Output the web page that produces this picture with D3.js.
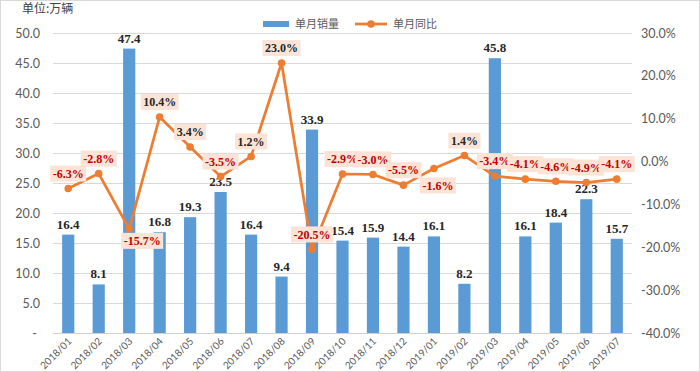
<!DOCTYPE html>
<html><head><meta charset="utf-8">
<script src="https://cdn.jsdelivr.net/npm/d3@7"></script>
<style>html,body{margin:0;padding:0;background:#fff;}svg{display:block;}</style>
</head><body>
<svg id="c" width="700" height="372"></svg>
<script>
const months = ["2018/01","2018/02","2018/03","2018/04","2018/05","2018/06","2018/07","2018/08","2018/09","2018/10","2018/11","2018/12","2019/01","2019/02","2019/03","2019/04","2019/05","2019/06","2019/07"];
const sales = [16.4, 8.1, 47.4, 16.8, 19.3, 23.5, 16.4, 9.4, 33.9, 15.4, 15.9, 14.4, 16.1, 8.2, 45.8, 16.1, 18.4, 22.3, 15.7];
const yoy = [-6.3, -2.8, -15.7, 10.4, 3.4, -3.5, 1.2, 23.0, -20.5, -2.9, -3.0, -5.5, -1.6, 1.4, -3.4, -4.1, -4.6, -4.9, -4.1];
const leftTicks = [0, 5, 10, 15, 20, 25, 30, 35, 40, 45, 50];
const rightTicks = [-40, -30, -20, -10, 0, 10, 20, 30];
const seriesNames = ["单月销量", "单月同比"];
const unitLabel = "单位:万辆";

const loc = d3.formatLocale({decimal: ".", thousands: ",", grouping: [3], currency: ["", ""], minus: "-"});
const f1 = loc.format(".1f");

const svg = d3.select("#c");
const L = 53, R = 632, T = 33, B = 333;
const x = d3.scaleBand().domain(months).range([L, R]).paddingInner(0.6).paddingOuter(0.3);
const yL = d3.scaleLinear().domain([0, 50]).range([B, T]);
const yR = d3.scaleLinear().domain([-40, 30]).range([B, T]);
const cx = m => x(m) + x.bandwidth() / 2;
const serif = "'Liberation Serif', 'Times New Roman', serif";
const sans = "Lato, 'Liberation Sans', sans-serif";

// border
svg.append("rect").attr("x", 0.5).attr("y", 0.5).attr("width", 699).attr("height", 371)
  .attr("fill", "none").attr("stroke", "#d9d9d9");

// gridlines
svg.append("g").selectAll("line").data(leftTicks.filter(d => d > 0)).join("line")
  .attr("x1", L).attr("x2", R).attr("y1", d => Math.round(yL(d)) + 0.5).attr("y2", d => Math.round(yL(d)) + 0.5)
  .attr("stroke", "#d9d9d9").attr("stroke-width", 1);
svg.append("line").attr("x1", L).attr("x2", R).attr("y1", B + 0.5).attr("y2", B + 0.5)
  .attr("stroke", "#d0d0d0");

// left axis
const axL = d3.axisLeft(yL).tickValues(leftTicks).tickSize(0).tickPadding(0)
  .tickFormat(d => d === 0 ? "-" : f1(d));
const gL = svg.append("g").attr("transform", "translate(40,0)").call(axL);
gL.select(".domain").remove();
gL.selectAll("text").attr("font-family", sans).attr("font-size", 12.5)
  .attr("fill", "#595959").attr("dx", d => d === 0 ? -3 : 0);

// right axis
const axR = d3.axisRight(yR).tickValues(rightTicks).tickSize(0).tickPadding(0)
  .tickFormat(d => f1(d) + "%");
const gR = svg.append("g").attr("transform", "translate(641,0)").call(axR);
gR.select(".domain").remove();
gR.selectAll("text").attr("font-family", sans).attr("font-size", 12.5)
  .attr("fill", "#595959");

// x axis labels
svg.append("g").selectAll("text").data(months).join("text")
  .attr("transform", d => `translate(${cx(d) + 4},${B + 9}) rotate(-45)`)
  .attr("text-anchor", "end").attr("font-family", sans)
  .attr("font-size", 10).attr("fill", "#595959").text(d => d);

// bars
svg.append("g").selectAll("rect").data(months).join("rect")
  .attr("x", d => x(d)).attr("width", x.bandwidth())
  .attr("y", (d, i) => yL(sales[i])).attr("height", (d, i) => B - yL(sales[i]))
  .attr("fill", "#5b9bd5");

// bar labels
svg.append("g").selectAll("text").data(months).join("text")
  .attr("x", d => cx(d)).attr("y", (d, i) => yL(sales[i]) - 6)
  .attr("text-anchor", "middle").attr("font-family", serif)
  .attr("font-weight", "bold").attr("font-size", 13).attr("fill", "#262626")
  .text((d, i) => f1(sales[i]));

// line
const line = d3.line().x((d, i) => cx(months[i])).y(d => yR(d));
svg.append("path").datum(yoy).attr("d", line).attr("fill", "none")
  .attr("stroke", "#ed7d31").attr("stroke-width", 2.75).attr("stroke-linejoin", "round");
svg.append("g").selectAll("circle").data(yoy).join("circle")
  .attr("cx", (d, i) => cx(months[i])).attr("cy", d => yR(d)).attr("r", 3.8).attr("fill", "#ed7d31");

// line labels
const place = i => i === 2 ? [13, 12] : i === 12 ? [4, 17] : [0, -15];
const lg = svg.append("g");
yoy.forEach((v, i) => {
  const [dx, dy] = place(i);
  const px = cx(months[i]) + dx, py = yR(v) + dy;
  const g = lg.append("g");
  const t = g.append("text").attr("x", px).attr("y", py + 4.3).attr("text-anchor", "middle")
    .attr("font-family", serif).attr("font-weight", "bold")
    .attr("font-size", 12).attr("fill", v < 0 ? "#c00000" : "#262626")
    .text(f1(v) + "%");
  const w = t.node().getComputedTextLength();
  g.insert("rect", "text").attr("x", px - w / 2 - 2.5).attr("y", py - 8)
    .attr("width", w + 5).attr("height", 16).attr("fill", "#fbe4d5");
});

// unit label
svg.append("text").attr("x", 22).attr("y", 13).attr("font-family", "'Noto Sans CJK SC', sans-serif")
  .attr("font-size", 12).attr("fill", "#404040").text(unitLabel);

// legend
svg.append("rect").attr("x", 263).attr("y", 21).attr("width", 26).attr("height", 6).attr("fill", "#5b9bd5");
svg.append("text").attr("x", 295).attr("y", 28).attr("font-family", "'Noto Sans CJK SC', sans-serif")
  .attr("font-size", 11).attr("fill", "#595959").text(seriesNames[0]);
svg.append("line").attr("x1", 355).attr("x2", 387).attr("y1", 24).attr("y2", 24)
  .attr("stroke", "#ed7d31").attr("stroke-width", 2.75);
svg.append("circle").attr("cx", 371).attr("cy", 24).attr("r", 3.8).attr("fill", "#ed7d31");
svg.append("text").attr("x", 393).attr("y", 28).attr("font-family", "'Noto Sans CJK SC', sans-serif")
  .attr("font-size", 11).attr("fill", "#595959").text(seriesNames[1]);
</script>
</body></html>
